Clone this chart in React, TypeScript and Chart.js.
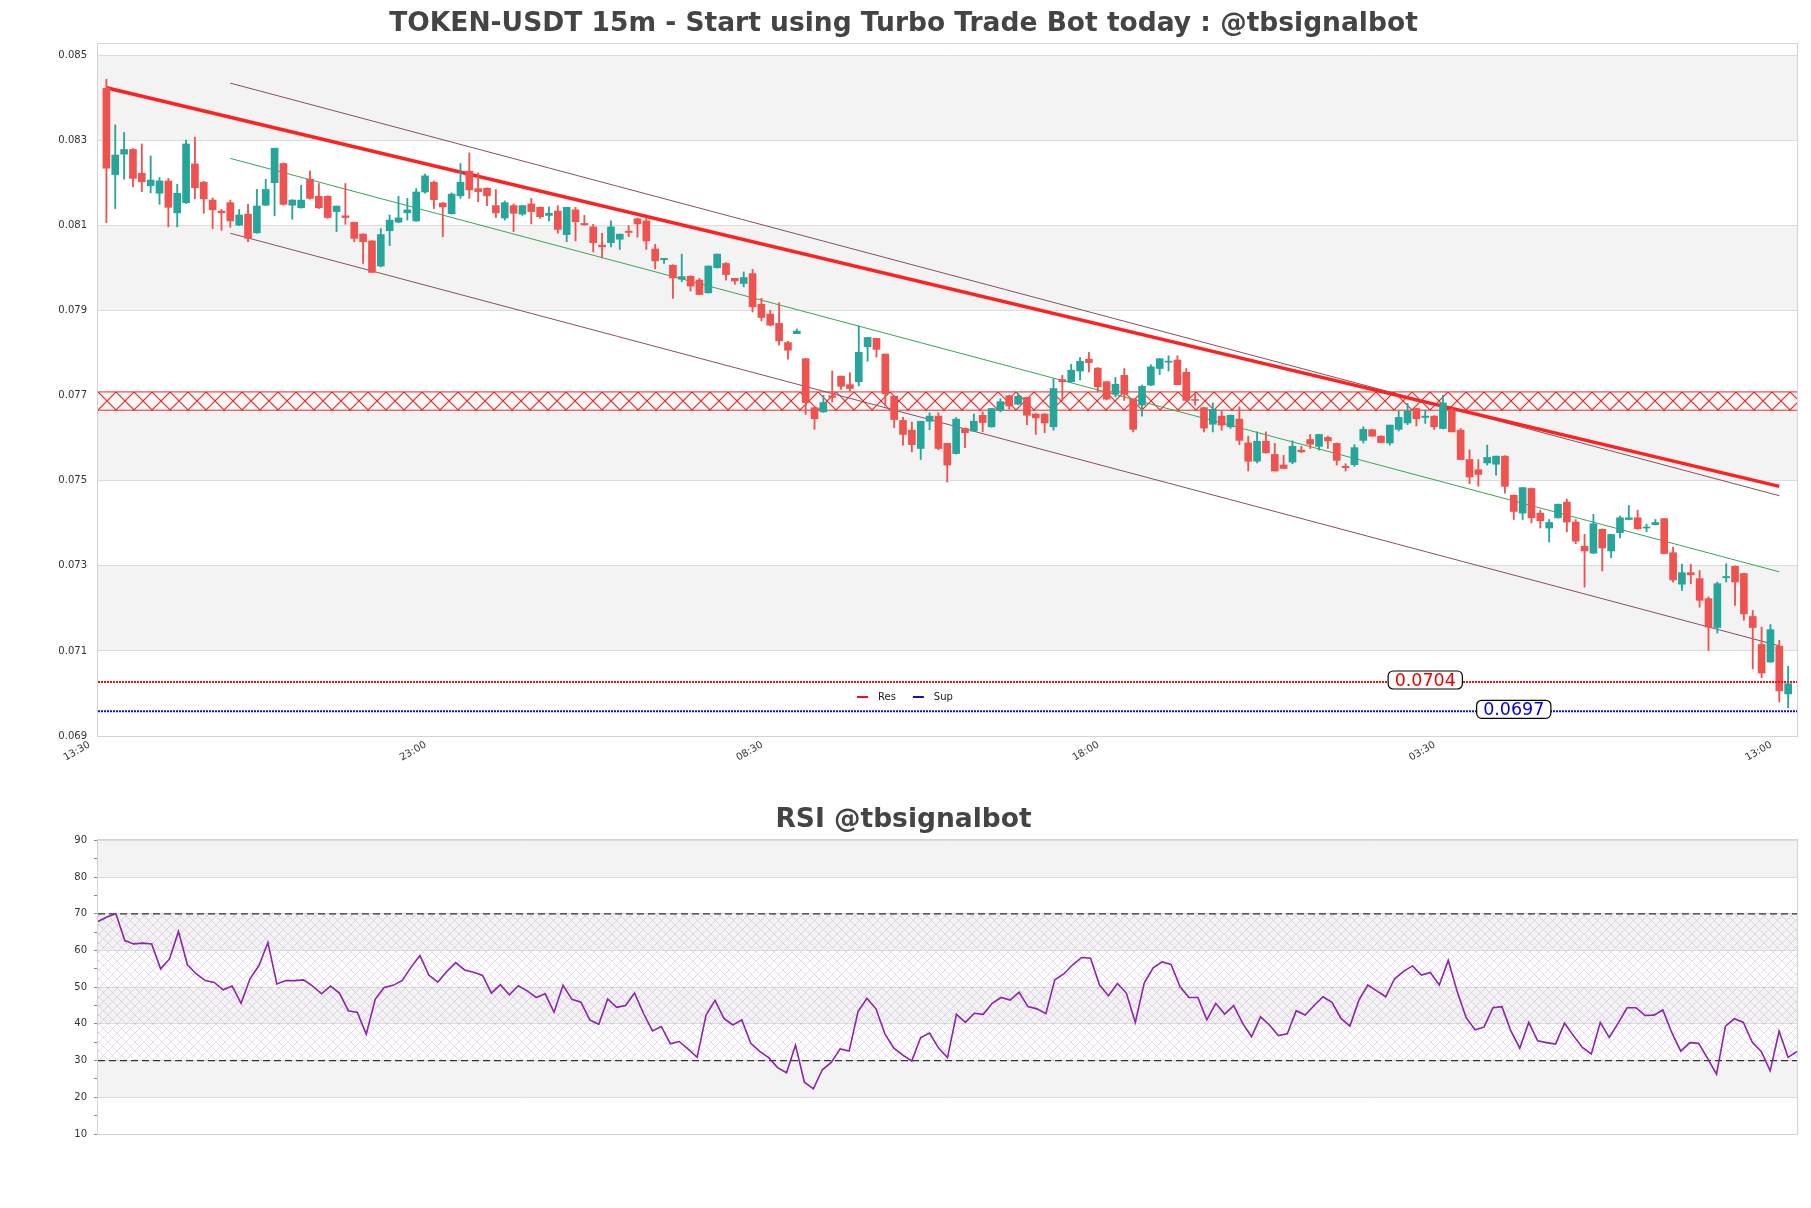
import React, { useEffect, useRef } from "react";
import { Chart, registerables } from "chart.js";

Chart.register(...registerables);
Chart.defaults.font.family = "'DejaVu Sans', 'Liberation Sans', sans-serif";
Chart.defaults.color = "#333";

const W = 1811;
const MAIN_H = 790;
const RSI_H = 418;

const mainTitle = "TOKEN-USDT 15m - Start using Turbo Trade Bot today : @tbsignalbot";
const rsiTitle = "RSI @tbsignalbot";

const timeTickIndex = [0, 38, 76, 114, 152, 190];
const timeTickLabels = ["13:30", "23:00", "08:30", "18:00", "03:30", "13:00"];
const priceTicks = [0.069, 0.071, 0.073, 0.075, 0.077, 0.079, 0.081, 0.083, 0.085];
const priceBands = [[0.071, 0.073], [0.075, 0.077], [0.079, 0.081], [0.083, 0.085]];
const rsiTicks = [10, 15, 20, 25, 30, 35, 40, 45, 50, 55, 60, 65, 70, 75, 80, 85, 90];
const rsiBands = [[20, 30], [40, 50], [60, 70], [80, 90]];
const rsiUpper = 70;
const rsiLower = 30;

const opens = [
  0.08423, 0.08220, 0.08268, 0.08279, 0.08223, 0.08194, 0.08176, 0.08205, 0.08130, 0.08154,
  0.08245, 0.08202, 0.08160, 0.08134, 0.08154, 0.08101, 0.08127, 0.08083, 0.08148, 0.08201,
  0.08246, 0.08148, 0.08142, 0.08209, 0.08169, 0.08169, 0.08133, 0.08123, 0.08108, 0.08080,
  0.08064, 0.08005, 0.08088, 0.08108, 0.08130, 0.08111, 0.08179, 0.08202, 0.08153, 0.08128,
  0.08170, 0.08228, 0.08187, 0.08188, 0.08147, 0.08118, 0.08147, 0.08127, 0.08151, 0.08143,
  0.08124, 0.08134, 0.08079, 0.08137, 0.08105, 0.08097, 0.08054, 0.08060, 0.08068, 0.08087,
  0.08116, 0.08111, 0.08045, 0.08020, 0.08007, 0.07974, 0.07981, 0.07972, 0.07942, 0.08001,
  0.08011, 0.07976, 0.07964, 0.07987, 0.07915, 0.07892, 0.07870, 0.07825, 0.07846, 0.07787,
  0.07672, 0.07662, 0.07700, 0.07746, 0.07726, 0.07733, 0.07815, 0.07835, 0.07798, 0.07699,
  0.07642, 0.07619, 0.07576, 0.07640, 0.07652, 0.07588, 0.07564, 0.07623, 0.07617, 0.07654,
  0.07627, 0.07666, 0.07700, 0.07680, 0.07696, 0.07657, 0.07657, 0.07627, 0.07738, 0.07733,
  0.07758, 0.07786, 0.07765, 0.07733, 0.07704, 0.07748, 0.07692, 0.07678, 0.07725, 0.07764,
  0.07779, 0.07784, 0.07755, 0.07691, 0.07672, 0.07633, 0.07652, 0.07627, 0.07645, 0.07589,
  0.07546, 0.07593, 0.07562, 0.07537, 0.07544, 0.07572, 0.07597, 0.07581, 0.07602, 0.07588,
  0.07534, 0.07538, 0.07595, 0.07620, 0.07605, 0.07589, 0.07621, 0.07636, 0.07670, 0.07649,
  0.07652, 0.07623, 0.07666, 0.07619, 0.07550, 0.07526, 0.07542, 0.07539, 0.07558, 0.07466,
  0.07424, 0.07482, 0.07424, 0.07389, 0.07413, 0.07450, 0.07403, 0.07346, 0.07330, 0.07386,
  0.07335, 0.07378, 0.07409, 0.07413, 0.07389, 0.07397, 0.07411, 0.07331, 0.07257, 0.07284,
  0.07270, 0.07223, 0.07155, 0.07272, 0.07299, 0.07282, 0.07181, 0.07115, 0.07074, 0.07111,
  0.06999,
];

const highs = [
  0.08444, 0.08337, 0.08319, 0.08281, 0.08292, 0.08264, 0.08213, 0.08211, 0.08197, 0.08301,
  0.08308, 0.08204, 0.08165, 0.08138, 0.08160, 0.08138, 0.08150, 0.08185, 0.08209, 0.08282,
  0.08248, 0.08161, 0.08195, 0.08228, 0.08199, 0.08170, 0.08146, 0.08199, 0.08108, 0.08081,
  0.08065, 0.08093, 0.08125, 0.08169, 0.08164, 0.08187, 0.08221, 0.08205, 0.08154, 0.08177,
  0.08246, 0.08271, 0.08224, 0.08189, 0.08185, 0.08158, 0.08151, 0.08147, 0.08164, 0.08144,
  0.08144, 0.08147, 0.08143, 0.08143, 0.08124, 0.08103, 0.08082, 0.08111, 0.08080, 0.08100,
  0.08118, 0.08117, 0.08056, 0.08023, 0.08008, 0.08033, 0.07982, 0.07976, 0.08005, 0.08033,
  0.08013, 0.07976, 0.07991, 0.07997, 0.07929, 0.07901, 0.07919, 0.07828, 0.07857, 0.07788,
  0.07673, 0.07701, 0.07758, 0.07746, 0.07754, 0.07864, 0.07837, 0.07835, 0.07798, 0.07699,
  0.07649, 0.07638, 0.07640, 0.07660, 0.07660, 0.07588, 0.07649, 0.07624, 0.07657, 0.07662,
  0.07670, 0.07693, 0.07701, 0.07705, 0.07697, 0.07658, 0.07658, 0.07740, 0.07748, 0.07774,
  0.07790, 0.07802, 0.07766, 0.07734, 0.07743, 0.07764, 0.07693, 0.07725, 0.07773, 0.07788,
  0.07794, 0.07794, 0.07764, 0.07705, 0.07673, 0.07683, 0.07664, 0.07655, 0.07674, 0.07605,
  0.07615, 0.07615, 0.07588, 0.07560, 0.07594, 0.07581, 0.07609, 0.07609, 0.07605, 0.07589,
  0.07540, 0.07585, 0.07627, 0.07621, 0.07606, 0.07631, 0.07664, 0.07682, 0.07671, 0.07666,
  0.07653, 0.07701, 0.07670, 0.07623, 0.07573, 0.07550, 0.07584, 0.07558, 0.07559, 0.07467,
  0.07484, 0.07483, 0.07431, 0.07409, 0.07445, 0.07457, 0.07409, 0.07374, 0.07421, 0.07387,
  0.07374, 0.07417, 0.07442, 0.07431, 0.07398, 0.07409, 0.07412, 0.07344, 0.07304, 0.07304,
  0.07289, 0.07227, 0.07262, 0.07305, 0.07300, 0.07283, 0.07195, 0.07156, 0.07162, 0.07125,
  0.07064,
];

const lows = [
  0.08107, 0.08140, 0.08209, 0.08191, 0.08180, 0.08177, 0.08150, 0.08097, 0.08097, 0.08152,
  0.08163, 0.08129, 0.08093, 0.08089, 0.08096, 0.08100, 0.08062, 0.08082, 0.08147, 0.08123,
  0.08148, 0.08115, 0.08141, 0.08162, 0.08140, 0.08117, 0.08086, 0.08103, 0.08062, 0.08011,
  0.07990, 0.08003, 0.08053, 0.08107, 0.08113, 0.08110, 0.08176, 0.08140, 0.08074, 0.08127,
  0.08164, 0.08164, 0.08156, 0.08147, 0.08119, 0.08113, 0.08086, 0.08124, 0.08104, 0.08117,
  0.08111, 0.08082, 0.08062, 0.08064, 0.08101, 0.08038, 0.08024, 0.08050, 0.08044, 0.08074,
  0.08073, 0.08044, 0.07998, 0.08011, 0.07929, 0.07968, 0.07946, 0.07938, 0.07941, 0.08000,
  0.07972, 0.07962, 0.07956, 0.07897, 0.07876, 0.07864, 0.07819, 0.07786, 0.07846, 0.07656,
  0.07621, 0.07661, 0.07685, 0.07715, 0.07711, 0.07723, 0.07781, 0.07791, 0.07676, 0.07625,
  0.07584, 0.07568, 0.07550, 0.07620, 0.07573, 0.07497, 0.07563, 0.07578, 0.07616, 0.07615,
  0.07626, 0.07662, 0.07668, 0.07679, 0.07632, 0.07609, 0.07613, 0.07619, 0.07689, 0.07732,
  0.07737, 0.07756, 0.07709, 0.07690, 0.07697, 0.07689, 0.07615, 0.07652, 0.07724, 0.07750,
  0.07758, 0.07726, 0.07689, 0.07678, 0.07615, 0.07615, 0.07619, 0.07623, 0.07585, 0.07523,
  0.07542, 0.07565, 0.07523, 0.07529, 0.07540, 0.07566, 0.07576, 0.07572, 0.07576, 0.07537,
  0.07523, 0.07534, 0.07589, 0.07605, 0.07589, 0.07584, 0.07617, 0.07632, 0.07629, 0.07635,
  0.07621, 0.07622, 0.07615, 0.07550, 0.07493, 0.07487, 0.07537, 0.07513, 0.07471, 0.07409,
  0.07409, 0.07401, 0.07389, 0.07356, 0.07412, 0.07380, 0.07352, 0.07250, 0.07329, 0.07288,
  0.07319, 0.07366, 0.07408, 0.07386, 0.07380, 0.07396, 0.07328, 0.07262, 0.07242, 0.07258,
  0.07203, 0.07101, 0.07142, 0.07262, 0.07207, 0.07172, 0.07058, 0.07037, 0.07073, 0.06980,
  0.06966,
];

const closes = [
  0.08235, 0.08266, 0.08279, 0.08211, 0.08203, 0.08207, 0.08205, 0.08143, 0.08176, 0.08292,
  0.08189, 0.08163, 0.08137, 0.08130, 0.08111, 0.08125, 0.08070, 0.08146, 0.08185, 0.08282,
  0.08150, 0.08160, 0.08160, 0.08164, 0.08142, 0.08119, 0.08146, 0.08119, 0.08070, 0.08062,
  0.07990, 0.08079, 0.08113, 0.08118, 0.08137, 0.08179, 0.08217, 0.08161, 0.08144, 0.08174,
  0.08202, 0.08184, 0.08180, 0.08170, 0.08130, 0.08154, 0.08129, 0.08147, 0.08133, 0.08121,
  0.08129, 0.08091, 0.08143, 0.08109, 0.08102, 0.08060, 0.08050, 0.08097, 0.08080, 0.08084,
  0.08104, 0.08064, 0.08017, 0.08023, 0.07977, 0.07980, 0.07958, 0.07938, 0.08005, 0.08033,
  0.07985, 0.07970, 0.07978, 0.07909, 0.07884, 0.07866, 0.07829, 0.07807, 0.07852, 0.07684,
  0.07646, 0.07684, 0.07696, 0.07722, 0.07717, 0.07802, 0.07837, 0.07809, 0.07705, 0.07644,
  0.07609, 0.07585, 0.07640, 0.07652, 0.07576, 0.07537, 0.07645, 0.07613, 0.07640, 0.07637,
  0.07670, 0.07686, 0.07676, 0.07699, 0.07654, 0.07648, 0.07636, 0.07717, 0.07733, 0.07760,
  0.07781, 0.07778, 0.07721, 0.07692, 0.07727, 0.07704, 0.07621, 0.07722, 0.07768, 0.07787,
  0.07781, 0.07726, 0.07689, 0.07689, 0.07624, 0.07668, 0.07631, 0.07654, 0.07595, 0.07546,
  0.07593, 0.07566, 0.07523, 0.07529, 0.07581, 0.07568, 0.07586, 0.07609, 0.07594, 0.07548,
  0.07531, 0.07578, 0.07621, 0.07605, 0.07590, 0.07631, 0.07649, 0.07664, 0.07646, 0.07652,
  0.07627, 0.07683, 0.07615, 0.07550, 0.07509, 0.07515, 0.07555, 0.07558, 0.07487, 0.07428,
  0.07484, 0.07413, 0.07406, 0.07402, 0.07445, 0.07403, 0.07358, 0.07335, 0.07399, 0.07342,
  0.07374, 0.07413, 0.07413, 0.07387, 0.07391, 0.07402, 0.07329, 0.07267, 0.07284, 0.07279,
  0.07219, 0.07156, 0.07258, 0.07275, 0.07262, 0.07187, 0.07155, 0.07048, 0.07150, 0.07006,
  0.07023,
];

const rsiValues = [
  67.9, 69.1, 70.0, 62.7, 61.8, 62.0, 61.8, 55.0, 57.7, 65.2,
  56.1, 53.6, 51.8, 51.3, 49.3, 50.3, 45.6, 52.3, 55.9, 62.2,
  50.9, 51.8, 51.8, 52.0, 50.3, 48.2, 50.3, 48.4, 43.6, 43.1,
  37.2, 46.7, 49.9, 50.5, 51.8, 55.4, 58.6, 53.3, 51.4, 54.3,
  56.7, 54.7, 54.1, 53.2, 48.4, 50.7, 47.9, 50.4, 49.0, 47.2,
  48.2, 43.2, 50.5, 46.7, 45.9, 41.1, 39.9, 46.8, 44.5, 45.0,
  48.4, 42.9, 38.1, 39.3, 34.6, 35.2, 33.1, 30.9, 42.4, 46.4,
  41.5, 39.7, 41.1, 34.7, 32.5, 30.8, 28.1, 26.7, 34.2, 24.1,
  22.3, 27.5, 29.5, 33.2, 32.6, 43.4, 47.0, 44.1, 37.3, 33.4,
  31.5, 29.9, 36.3, 37.5, 33.4, 30.8, 42.6, 40.4, 42.9, 42.6,
  45.6, 47.2, 46.5, 48.6, 44.7, 44.1, 42.8, 52.0, 53.6, 56.1,
  58.1, 57.9, 50.6, 47.7, 51.0, 48.4, 40.4, 51.1, 55.3, 56.9,
  56.2, 50.2, 47.2, 47.2, 41.1, 45.6, 42.7, 45.0, 40.2, 36.5,
  41.9, 39.7, 36.8, 37.3, 43.6, 42.4, 45.0, 47.4, 45.9, 41.5,
  39.4, 46.4, 50.6, 49.0, 47.4, 52.3, 54.3, 55.8, 53.3, 54.0,
  50.6, 57.3, 48.8, 41.7, 38.4, 39.1, 44.4, 44.7, 38.1, 33.4,
  40.4, 35.4, 34.9, 34.5, 40.2, 36.8, 33.6, 31.8, 40.4, 36.3,
  40.2, 44.4, 44.4, 42.3, 42.4, 43.8, 37.6, 32.6, 34.9, 34.7,
  30.6, 26.3, 39.4, 41.4, 40.4, 35.0, 32.5, 27.2, 38.0, 30.9,
  32.5,
];

// Support / resistance levels
const resLevel = 0.07027;
const supLevel = 0.06958;
const resText = "0.0704";
const supText = "0.0697";
const resLabelAt = 149;
const supLabelAt = 159;
const zoneLow = 0.07666;
const zoneHigh = 0.07709;

// trend lines: [index, price]
const resTrend = [[0, 0.08424], [189, 0.07487]];
const channelUpper = [[14, 0.08435], [189, 0.07465]];
const channelMid = [[14, 0.08258], [189, 0.07286]];
const channelLower = [[14, 0.08082], [189, 0.07112]];

const UP = "#26a69a";
const DOWN = "#ef5350";
const X_MIN = -0.95;
const X_MAX = 191;
const Y_MIN = 0.069;
const Y_MAX = 0.08527;

function makeHatch(ctx: CanvasRenderingContext2D, size: number, color: string, bg: string | null, lw: number) {
  const c = document.createElement("canvas");
  c.width = size;
  c.height = size;
  const g = c.getContext("2d") as CanvasRenderingContext2D;
  if (bg) {
    g.fillStyle = bg;
    g.fillRect(0, 0, size, size);
  }
  g.strokeStyle = color;
  g.lineWidth = lw;
  g.beginPath();
  g.moveTo(0, 0);
  g.lineTo(size, size);
  g.moveTo(size, 0);
  g.lineTo(0, size);
  g.stroke();
  return ctx.createPattern(c, "repeat") as CanvasPattern;
}

function roundRectPath(ctx: CanvasRenderingContext2D, x: number, y: number, w: number, h: number, r: number) {
  ctx.beginPath();
  ctx.moveTo(x + r, y);
  ctx.lineTo(x + w - r, y);
  ctx.arcTo(x + w, y, x + w, y + r, r);
  ctx.lineTo(x + w, y + h - r);
  ctx.arcTo(x + w, y + h, x + w - r, y + h, r);
  ctx.lineTo(x + r, y + h);
  ctx.arcTo(x, y + h, x, y + h - r, r);
  ctx.lineTo(x, y + r);
  ctx.arcTo(x, y, x + r, y, r);
  ctx.closePath();
}

const decorPlugin: any = {
  id: "decor",
  beforeDraw(chart: any, _args: any, opts: any) {
    const { ctx, chartArea: a } = chart;
    const ys = chart.scales.y;
    if (opts.alignPattern) {
      const top = ys.getPixelForValue(opts.alignPattern.value);
      try {
        opts.alignPattern.pattern.setTransform(new DOMMatrix([1, 0, 0, 1, a.left, top]));
      } catch (e) {
        /* ignore */
      }
    }
    ctx.save();
    ctx.fillStyle = "#ffffff";
    ctx.fillRect(0, 0, chart.width, chart.height);
    ctx.fillStyle = opts.bandColor;
    for (const [lo, hi] of opts.bands) {
      const top = ys.getPixelForValue(Math.min(hi, ys.max));
      const bot = ys.getPixelForValue(Math.max(lo, ys.min));
      ctx.fillRect(a.left, top, a.right - a.left, bot - top);
    }
    ctx.restore();
  },
  afterDraw(chart: any, _args: any, opts: any) {
    const { ctx, chartArea: a } = chart;
    ctx.save();
    ctx.strokeStyle = opts.borderColor;
    ctx.lineWidth = 1;
    ctx.strokeRect(Math.round(a.left) - 0.5, Math.round(a.top) - 0.5, Math.round(a.right - a.left) + 1, Math.round(a.bottom - a.top) + 1);
    const labels = opts.labels || [];
    const xs = chart.scales.x;
    const ys = chart.scales.y;
    for (const lab of labels) {
      const cx = xs.getPixelForValue(lab.at);
      const cy = ys.getPixelForValue(lab.value) - 2;
      ctx.font = "17.5px 'DejaVu Sans'";
      const w = ctx.measureText(lab.text).width + 13;
      const h = 18;
      roundRectPath(ctx, cx - w / 2, cy - h / 2, w, h, 5);
      ctx.fillStyle = "#ffffff";
      ctx.fill();
      ctx.strokeStyle = "#000000";
      ctx.lineWidth = 1.2;
      ctx.stroke();
      ctx.fillStyle = lab.color;
      ctx.textAlign = "center";
      ctx.textBaseline = "middle";
      ctx.fillText(lab.text, cx, cy + 1);
    }
    const legend = opts.legend;
    if (legend) {
      let x = (a.left + a.right) / 2 - 90.5;
      const y = a.bottom - 39;
      ctx.font = "10px 'DejaVu Sans'";
      ctx.textAlign = "left";
      ctx.textBaseline = "middle";
      for (const item of legend) {
        ctx.strokeStyle = item.color;
        ctx.lineWidth = 2;
        ctx.beginPath();
        ctx.moveTo(x, y);
        ctx.lineTo(x + 11, y);
        ctx.stroke();
        ctx.fillStyle = "#222";
        ctx.fillText(item.text, x + 21, y);
        x += 21 + ctx.measureText(item.text).width + 17;
      }
    }
    ctx.restore();
  },
};

function lineSet(label: string, pts: number[][], color: string, width: number, order: number, extra: any = {}) {
  return {
    type: "line",
    label,
    data: pts.map((p) => ({ x: p[0], y: p[1] })),
    borderColor: color,
    borderWidth: width,
    pointRadius: 0,
    tension: 0,
    fill: false,
    order,
    ...extra,
  };
}

export default function App() {
  const mainRef = useRef<HTMLCanvasElement>(null);
  const rsiRef = useRef<HTMLCanvasElement>(null);

  useEffect(() => {
    const mainCanvas = mainRef.current as HTMLCanvasElement;
    const rsiCanvas = rsiRef.current as HTMLCanvasElement;
    const mctx = mainCanvas.getContext("2d") as CanvasRenderingContext2D;
    const rctx = rsiCanvas.getContext("2d") as CanvasRenderingContext2D;
    const zoneHatch = makeHatch(mctx, 18, "rgba(225,20,20,0.95)", "#fff8f8", 1.1);
    const rsiHatch = makeHatch(rctx, 9, "rgba(170,130,200,0.28)", null, 1);

    const idx = opens.map((_, i) => i);
    const candleColors = idx.map((i) => (closes[i] >= opens[i] ? UP : DOWN));

    const titleFont = { size: 26.5, weight: "bold" as const, family: "'DejaVu Sans', sans-serif" };

    const mainChart = new Chart(mainCanvas, {
      type: "bar",
      data: {
        datasets: [
          lineSet("Res", [[X_MIN, resLevel], [X_MAX, resLevel]], "#ee1111", 2, 0, { borderDash: [2, 1] }),
          lineSet("Sup", [[X_MIN, supLevel], [X_MAX, supLevel]], "#1111cc", 2, 0, { borderDash: [2, 1] }),
          {
            type: "bar",
            label: "body",
            data: idx.map((i) => ({ x: i, y: [opens[i], closes[i]] })),
            backgroundColor: candleColors,
            barThickness: 7,
            grouped: false,
            minBarLength: 1,
            order: 1,
          },
          {
            type: "bar",
            label: "wick",
            data: idx.map((i) => ({ x: i, y: [lows[i], highs[i]] })),
            backgroundColor: candleColors,
            barThickness: 1.2,
            grouped: false,
            order: 2,
          },
          lineSet("resTrend", resTrend, "#ff2020", 3.5, 3),
          lineSet("upper", channelUpper, "#8b4f60", 1, 3),
          lineSet("mid", channelMid, "#3aa655", 1, 3),
          lineSet("lower", channelLower, "#8b4f60", 1, 3),
          lineSet("zoneTop", [[X_MIN, zoneHigh], [X_MAX, zoneHigh]], "rgba(225,20,20,0.9)", 1, 4, {
            fill: "+1",
            backgroundColor: zoneHatch,
          }),
          lineSet("zoneBottom", [[X_MIN, zoneLow], [X_MAX, zoneLow]], "rgba(225,20,20,0.9)", 1, 4),
        ],
      } as any,
      plugins: [decorPlugin],
      options: {
        responsive: false,
        animation: false,
        devicePixelRatio: 1,
        events: [],
        layout: { padding: { left: 10, right: 14, top: 0, bottom: 0 } },
        plugins: {
          legend: { display: false },
          tooltip: { enabled: false },
          filler: { propagate: false, drawTime: "beforeDatasetsDraw" },
          title: {
            display: true,
            text: mainTitle,
            color: "#444",
            font: titleFont,
            padding: { top: 8.5, bottom: 3.7 },
          },
          decor: {
            bands: priceBands,
            bandColor: "#f3f3f3",
            borderColor: "#d4d4d4",
            alignPattern: { pattern: zoneHatch, value: zoneHigh },
            labels: [
              { text: resText, value: resLevel, at: resLabelAt, color: "#ee0000" },
              { text: supText, value: supLevel, at: supLabelAt, color: "#0000dd" },
            ],
            legend: [
              { text: "Res", color: "#ee1111" },
              { text: "Sup", color: "#1111cc" },
            ],
          },
        } as any,
        scales: {
          x: {
            type: "linear",
            min: X_MIN,
            max: X_MAX,
            offset: false,
            grid: { display: false },
            border: { display: false },
            afterBuildTicks: (axis: any) => {
              axis.ticks = timeTickIndex.map((v) => ({ value: v }));
            },
            afterFit: (s: any) => {
              s.height = 54;
            },
            ticks: {
              autoSkip: false,
              maxRotation: 30,
              minRotation: 30,
              padding: -5,
              labelOffset: -17,
              color: "#333",
              font: { size: 10 },
              callback: (v: any) => {
                const k = timeTickIndex.indexOf(Math.round(Number(v)));
                return k >= 0 ? timeTickLabels[k] : "";
              },
            },
          },
          y: {
            type: "linear",
            min: Y_MIN,
            max: Y_MAX,
            beginAtZero: false,
            grid: { color: "#dcdcdc", drawTicks: false },
            border: { display: false },
            afterBuildTicks: (axis: any) => {
              axis.ticks = priceTicks.map((v) => ({ value: v }));
            },
            afterFit: (s: any) => {
              s.width = 88;
            },
            ticks: {
              padding: 11,
              color: "#333",
              font: { size: 10 },
              callback: (v: any) => Number(v).toFixed(3),
            },
          },
        },
      } as any,
    });

    const rsiChart = new Chart(rsiCanvas, {
      type: "line",
      data: {
        datasets: [
          lineSet("RSI", rsiValues.map((v, j) => [j, v]), "#8e24aa", 1.6, 0),
          lineSet("upper", [[0, rsiUpper], [rsiValues.length - 1, rsiUpper]], "#333333", 1.2, 1, {
            borderDash: [7, 4],
            fill: "+1",
            backgroundColor: rsiHatch,
          }),
          lineSet("lower", [[0, rsiLower], [rsiValues.length - 1, rsiLower]], "#333333", 1.2, 1, {
            borderDash: [7, 4],
          }),
        ],
      } as any,
      plugins: [decorPlugin],
      options: {
        responsive: false,
        animation: false,
        devicePixelRatio: 1,
        events: [],
        layout: { padding: { left: 10, right: 14, top: 0, bottom: 74 } },
        plugins: {
          legend: { display: false },
          tooltip: { enabled: false },
          filler: { propagate: false, drawTime: "beforeDatasetsDraw" },
          title: {
            display: true,
            text: rsiTitle,
            color: "#444",
            font: titleFont,
            padding: { top: 14.6, bottom: 4 },
          },
          decor: {
            bands: rsiBands,
            bandColor: "#f3f3f3",
            borderColor: "#d4d4d4",
          },
        } as any,
        scales: {
          x: {
            type: "linear",
            min: 0,
            max: rsiValues.length - 1,
            display: false,
          },
          y: {
            type: "linear",
            min: 10,
            max: 90,
            border: { display: false },
            grid: {
              color: (c: any) => (c.tick && c.tick.value % 10 === 0 ? "#dcdcdc" : "rgba(0,0,0,0)"),
              tickColor: "#888",
              tickLength: 4,
              drawTicks: true,
            },
            afterBuildTicks: (axis: any) => {
              axis.ticks = rsiTicks.map((v) => ({ value: v }));
            },
            afterFit: (s: any) => {
              s.width = 88;
            },
            ticks: {
              padding: 7,
              color: "#333",
              font: { size: 10 },
              autoSkip: false,
              callback: (v: any) => (Number(v) % 10 === 0 ? String(v) : ""),
            },
          },
        },
      } as any,
    });

    return () => {
      mainChart.destroy();
      rsiChart.destroy();
    };
  }, []);

  return (
    <div style={{ position: "absolute", left: 0, top: 0, width: W, height: MAIN_H + RSI_H, background: "#fff", overflow: "hidden" }}>
      <canvas
        ref={mainRef}
        width={W}
        height={MAIN_H}
        style={{ position: "absolute", left: 0, top: 0, width: W, height: MAIN_H }}
      />
      <canvas
        ref={rsiRef}
        width={W}
        height={RSI_H}
        style={{ position: "absolute", left: 0, top: MAIN_H, width: W, height: RSI_H }}
      />
    </div>
  );
}
